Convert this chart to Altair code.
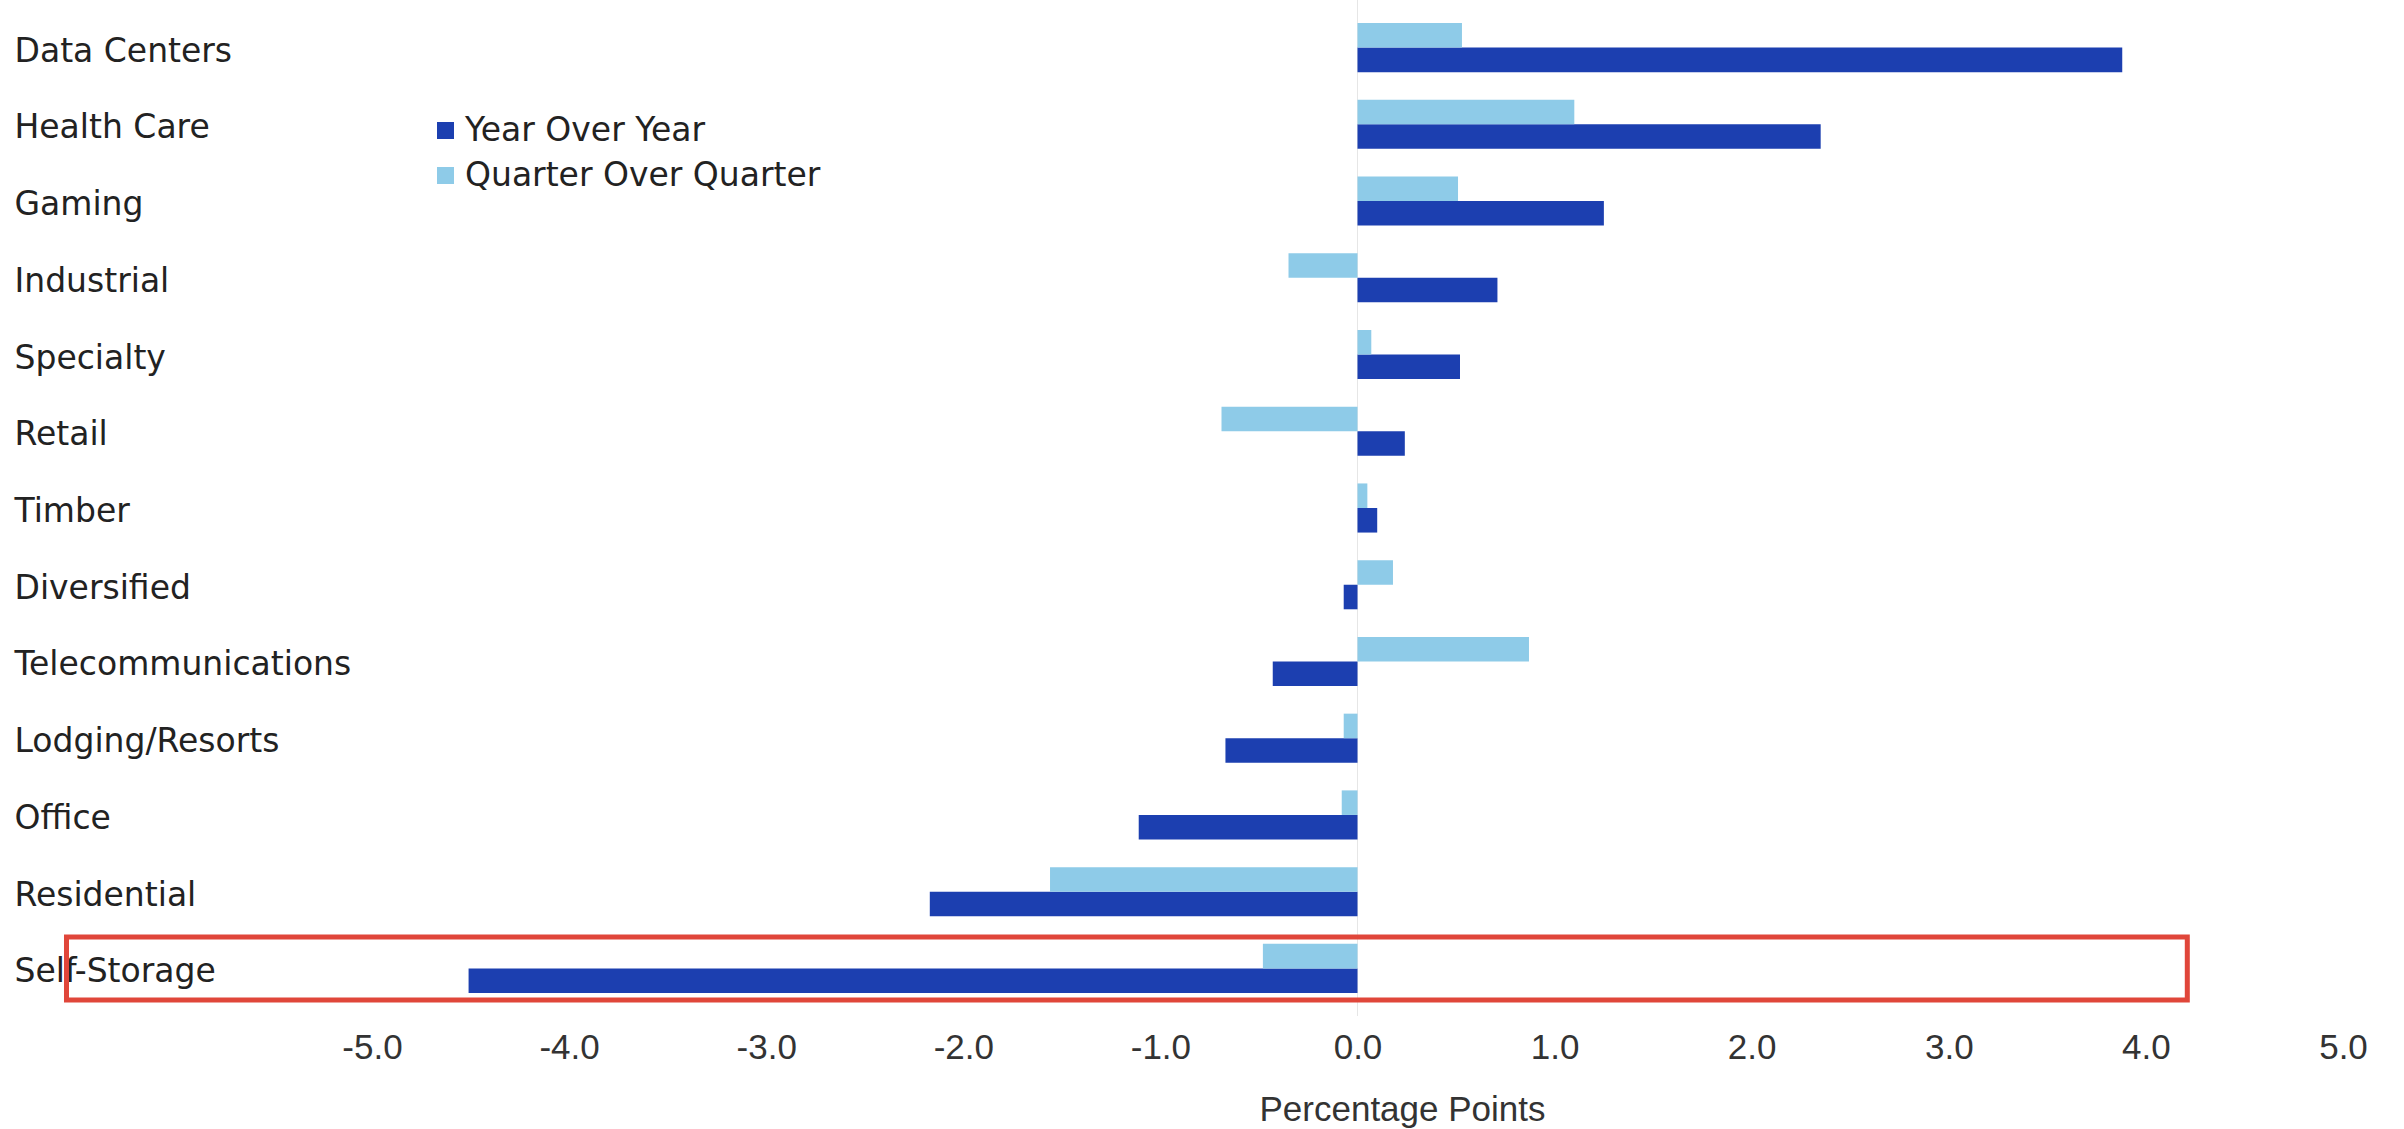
import altair as alt
import pandas as pd

# Change in sector weights, percentage points
categories = [
    "Data Centers", "Health Care", "Gaming", "Industrial", "Specialty",
    "Retail", "Timber", "Diversified", "Telecommunications",
    "Lodging/Resorts", "Office", "Residential", "Self-Storage",
]
year_over_year = [3.88, 2.35, 1.25, 0.71, 0.52, 0.24, 0.10, -0.07, -0.43, -0.67, -1.11, -2.17, -4.51]
quarter_over_quarter = [0.53, 1.10, 0.51, -0.35, 0.07, -0.69, 0.05, 0.18, 0.87, -0.07, -0.08, -1.56, -0.48]

series = ["Year Over Year", "Quarter Over Quarter"]
series_colors = ["#1c3fb0", "#8ecbe8"]
x_ticks = [-5, -4, -3, -2, -1, 0, 1, 2, 3, 4, 5]

# Highlight box drawn around one sector row
highlight_sector = "Self-Storage"
highlight_span = [-6.55, 4.21]

rows = []
for sector, yoy, qoq in zip(categories, year_over_year, quarter_over_quarter):
    rows.append({"sector": sector, "series": series[0], "value": yoy})
    rows.append({"sector": sector, "series": series[1], "value": qoq})
df = pd.DataFrame(rows)

PLOT_W = 1971
PLOT_H = 1016
LEFT = 372

x_scale = alt.Scale(domain=[-5, 5], nice=False, zero=False)
y_scale = alt.Scale(domain=categories, paddingInner=0.36, paddingOuter=0.3)

zero_line = alt.Chart(pd.DataFrame({"v": [0]})).mark_rule(
    color="#e6e6e6", strokeWidth=1
).encode(x=alt.X("v:Q", scale=x_scale))

bars = alt.Chart(df).mark_bar().encode(
    x=alt.X(
        "value:Q",
        scale=x_scale,
        axis=alt.Axis(
            values=x_ticks,
            # plain hyphen for negatives
            labelExpr="(datum.value < 0 ? '-' : '') + format(abs(datum.value), '.1f')",
            labelFlush=False,
            title="Percentage Points",
            labelFont="Liberation Sans",
            labelFontSize=35,
            labelColor="#333333",
            labelPadding=14,
            titleFont="Liberation Sans",
            titleFontSize=35,
            titleFontWeight="normal",
            titleColor="#333333",
            titleBaseline="alphabetic",
            titleAlign="center",
            titleX=1030,
            titleY=104,
        ),
    ),
    y=alt.Y(
        "sector:N",
        scale=y_scale,
        axis=alt.Axis(
            title=None,
            labelAlign="left",
            labelPadding=358,
            labelLimit=800,
            labelFont="DejaVu Sans",
            labelFontSize=33,
            labelColor="#222222",
            labelOffset=4,
            tickSize=0,
        ),
    ),
    yOffset=alt.YOffset("series:N", sort=[series[1], series[0]]),
    color=alt.Color(
        "series:N",
        scale=alt.Scale(domain=series, range=series_colors),
        legend=alt.Legend(
            title=None,
            orient="none",
            legendX=57,
            legendY=114,
            direction="vertical",
            symbolType="square",
            symbolSize=289,
            symbolStrokeWidth=0,
            labelFont="DejaVu Sans",
            labelFontSize=33,
            labelColor="#222222",
            labelOffset=3,
            labelLimit=800,
            rowPadding=11,
            padding=0,
        ),
    ),
)

highlight = alt.Chart(pd.DataFrame({"sector": [highlight_sector]})).mark_bar(
    fillOpacity=0, stroke="#e0463a", strokeWidth=5, size=63
).encode(
    y=alt.Y("sector:N", scale=y_scale),
    x=alt.datum(highlight_span[0], scale=x_scale),
    x2=alt.datum(highlight_span[1]),
)

chart = (
    alt.layer(zero_line, bars, highlight)
    .properties(
        width=PLOT_W,
        height=PLOT_H,
        autosize=alt.AutoSizeParams(type="none"),
        padding={"left": LEFT, "top": 0, "right": 2404 - LEFT - PLOT_W, "bottom": 1129 - PLOT_H},
        background="white",
    )
    .configure_view(stroke=None)
    .configure_axis(domain=False, grid=False, ticks=False)
)

chart.save("out.html", embed_options={"renderer": "svg", "actions": False})
